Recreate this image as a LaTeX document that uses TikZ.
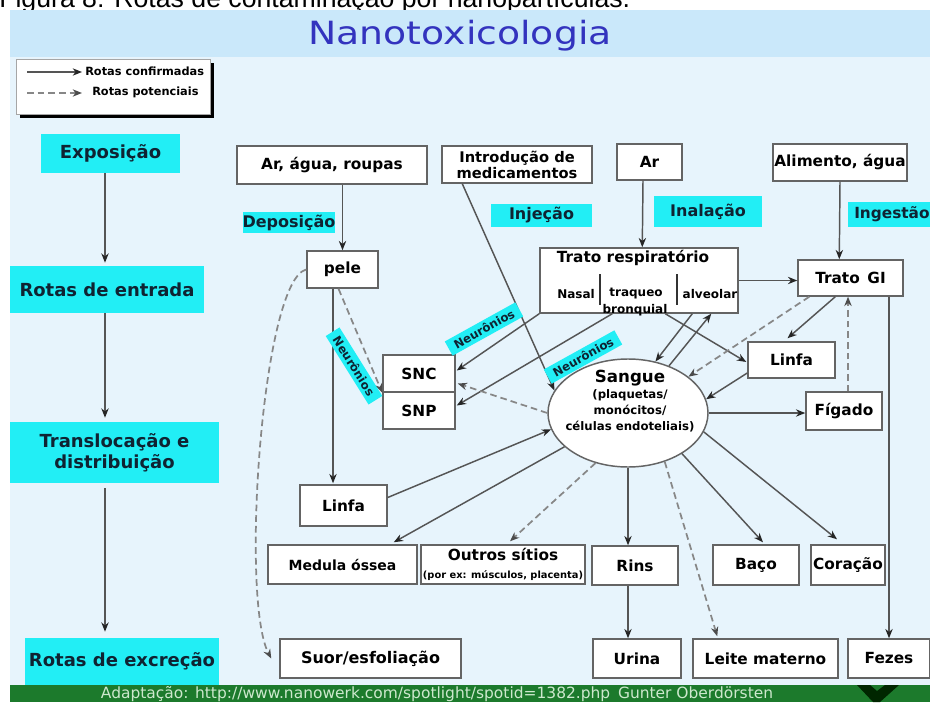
\documentclass[tikz,border=0pt]{standalone}
\usepackage{fontspec}
\setmainfont{DejaVu Sans}
\newfontfamily\capfont{Liberation Sans}
\usetikzlibrary{arrows.meta,shapes.geometric,calc,shadows}
\definecolor{bgmain}{RGB}{231,244,252}
\definecolor{bgtitle}{RGB}{202,232,250}
\definecolor{titleblue}{RGB}{51,51,190}
\definecolor{cyanlab}{RGB}{34,238,245}
\definecolor{footgreen}{RGB}{28,122,44}
\definecolor{foottext}{RGB}{205,232,205}
\definecolor{linecol}{RGB}{85,85,85}
\definecolor{dashcol}{RGB}{135,135,135}
\definecolor{boxborder}{RGB}{100,100,100}
\definecolor{labtext}{RGB}{15,35,50}
\newcommand\fsz[2]{\fontsize{#1}{#2}\selectfont}
\begin{document}
\begin{tikzpicture}[x=0.75pt,y=-0.75pt,
  wh/.style 2 args={minimum width=#1*0.75pt,minimum height=#2*0.75pt},
  box/.style={draw=boxborder,line width=1.1pt,fill=white,inner sep=0pt,align=center,font=\bfseries\fsz{11.5}{13.5}},
  lab/.style={fill=cyanlab,inner sep=0pt,align=center,text=labtext,font=\bfseries\fsz{13.5}{16}},
  cyl/.style={fill=cyanlab,inner sep=0pt,text=labtext,font=\bfseries\fsz{12}{14}},
  neur/.style={fill=cyanlab,inner xsep=5pt,inner ysep=2.5pt,text=labtext,font=\bfseries\fsz{8.8}{10}},
  arr/.style={draw=linecol,line width=1.1pt,-{Stealth[length=7pt,width=5.5pt,color=black!85]}},
  dsh/.style={draw=dashcol,line width=1.3pt,dash pattern=on 5pt off 3pt,-{Stealth[length=7pt,width=5.5pt,color=black!70]}},
  txt/.style={inner sep=0pt,font=\bfseries\fsz{9}{11}}]
\useasboundingbox (0,0) rectangle (930,702);
% backgrounds
\fill[white] (0,0) rectangle (930,702);
\fill[bgtitle] (10,10) rectangle (930,57);
\fill[bgmain] (10,57) rectangle (930,685);
\fill[footgreen] (10,685) rectangle (930,702);
\begin{scope}
\clip (0,0) rectangle (930,10);
\node[anchor=base west,inner sep=0pt,font=\capfont\fsz{20}{22}] (cap) at (-1,8) {Figura 8: Rotas de contaminação por nanopartículas.};
\end{scope}
\node[inner sep=0pt,text=titleblue,font=\fsz{24}{28}] (title) at (460,36) {\scalebox{1.18}[1]{Nanotoxicologia}};
\fill[black!85!green] (857,685) -- (870,685) -- (877,691) -- (885,685) -- (899,685) -- (880,702) -- (873,702) -- cycle;
\node[inner sep=0pt,text=foottext,font=\fsz{11.6}{13}] (foot) at (437,694) {Adaptação: http://www.nanowerk.com/spotlight/spotid=1382.php\enspace Gunter Oberdörsten};
% legend
\node[draw=gray!70,line width=0.8pt,fill=white,wh={194}{55},anchor=north west,
  drop shadow={shadow xshift=2.5pt,shadow yshift=-2.5pt,fill=black,opacity=1}] (leg) at (16,59) {};
\node[anchor=west,inner sep=0pt,font=\bfseries\fsz{8.5}{10}] (leg1) at (85,71) {Rotas confirmadas};
\node[anchor=west,inner sep=0pt,font=\bfseries\fsz{8.5}{10}] (leg2) at (92,92) {Rotas potenciais};
\coordinate (la1) at (27,72);
\coordinate (lb1) at (27,93);
\draw[arr,line width=0.9pt] (la1) -- ($(leg1.west)+(-3,1)$);
\draw[dsh,line width=1pt] (lb1) -- ($(leg2.west)+(-10,1)$);
% left column
\node[lab,wh={139}{39}] (exp) at (110.5,153.5) {Exposição};
\node[lab,wh={194}{47}] (ent) at (107,289.5) {Rotas de entrada};
\node[lab,wh={209}{61}] (tra) at (114.5,452.5) {Translocação e\\distribuição};
\node[lab,wh={194}{47}] (exc) at (122,661.5) {Rotas de excreção};
\draw[arr] ($(exp.south)+(-5.5,0)$) -- ($(ent.north)+(-2,-3)$);
\draw[arr] ($(ent.south)+(-2,0)$) -- ($(tra.north)+(-9.5,-4)$);
\draw[arr] ($(tra.south)+(-9.5,5)$) -- ($(exc.north)+(-17,-6)$);
% main boxes
\node[box,wh={190}{38}] (arw) at (332,165) {Ar, água, roupas};
\node[box,wh={150}{37},font=\bfseries\fsz{11}{12}] (intr) at (517,164.5) {Introdução de\\medicamentos};
\node[box,wh={65}{36}] (ar) at (649.5,162) {Ar};
\node[box,wh={134}{37}] (alim) at (840,162.5) {Alimento, água};
\node[box,wh={71}{37}] (pele) at (342.5,269.5) {pele};
\node[box,wh={198}{65}] (trs) at (639,280.5) {};
\node[inner sep=0pt,font=\bfseries\fsz{11.5}{13}] (trst) at (633,258) {Trato respiratório};
\node[txt] (nasal) at (576,294) {Nasal};
\node[txt] (traq) at (636,294) {traqueo};
\node[txt] (bronq) at (635,310) {bronquial};
\node[txt] (alv) at (710,294) {alveolar};
\draw[line width=0.8pt,black!80] (600,274) -- (600,305);
\draw[line width=0.8pt,black!80] (677,274) -- (677,305);
\node[box,wh={105}{36}] (tgi) at (850.5,278) {Trato\enspace GI};
\node[box,wh={87}{36}] (linR) at (791.5,360) {Linfa};
\node[box,wh={76}{38}] (fig) at (844,411) {Fígado};
\node[box,wh={72}{37}] (snc) at (419,373.5) {SNC};
\node[box,wh={72}{37}] (snp) at (419,410.5) {SNP};
\node[draw=boxborder,line width=1.1pt,fill=white,ellipse,wh={160}{108},inner sep=0pt] (sang) at (628,413) {};
\node[align=center,inner sep=0pt,font=\bfseries\fsz{8.8}{12}] (sangtxt) at (630,401) {{\fsz{12.5}{14}Sangue}\\(plaquetas/\\monócitos/\\células endoteliais)};
\node[box,wh={87}{41}] (linL) at (343.5,505.5) {Linfa};
\node[box,wh={149}{39},font=\bfseries\fsz{10.5}{12}] (med) at (342.5,564.5) {Medula óssea};
\node[box,wh={164}{39}] (out) at (503,564.5) {{\fsz{11.5}{12}Outros sítios}\\{\fsz{7.4}{9}(por ex: músculos, placenta)}};
\node[box,wh={86}{39}] (rins) at (635,565.5) {Rins};
\node[box,wh={86}{40}] (baco) at (756,565) {Baço};
\node[box,wh={74}{40}] (cor) at (848,565) {Coração};
\node[box,wh={181}{39},font=\bfseries\fsz{12}{14}] (suor) at (370.5,658.5) {Suor/esfoliação};
\node[box,wh={88}{39}] (urina) at (637,658.5) {Urina};
\node[box,wh={145}{39}] (leite) at (765.5,658.5) {Leite materno};
\node[box,wh={82}{39}] (fez) at (889,658.5) {Fezes};
% route labels
\node[cyl,wh={78}{21}] (dep) at (289,222.5) {Deposição};
\node[cyl,wh={101}{23}] (inj) at (541.5,215.5) {Injeção};
\node[cyl,wh={108}{31}] (inal) at (708,211.5) {Inalação};
\node[cyl,wh={82}{25},anchor=west,font=\bfseries\fsz{11.5}{14}] (ing) at (848,214.5) {\hspace*{4pt}Ingestão};
% connectors
\draw[arr] (pele.north |- arw.south) -- (pele.north);
\draw[arr] ($(pele.south)+(-9.5,0)$) -- ($(linL.north)+(-10.5,-1)$);
\draw[dsh] ($(pele.south)+(-4,0)$) -- (snc.south west);
\draw[dsh] (pele.west) .. controls (262,280) and (240,600) .. ($(suor.west)+(-8,0)$);
\draw[arr] ($(intr.south west)+(21,0)$) -- (sang.163);
\draw[arr] ($(ar.south)+(-6.5,0)$) -- ($(trs.north west)+(103,0)$);
\draw[arr] (alim.south) -- ($(tgi.north west)+(42,0)$);
\draw[arr] (trs.east) -- (tgi.west |- trs.east);
\draw[arr] (trs.south west) -- ($(snc.east)+(1,-3)$);
\draw[arr] ($(trs.south west)+(73,0)$) -- ($(snp.east)+(1,-5)$);
\draw[dsh] (sang.180) -- ($(snc.east)+(2,10)$);
\draw[arr] ($(trs.south west)+(126,0)$) -- ($(linR.west)+(-1,2)$);
\draw[arr] ($(trs.south west)+(153,0)$) -- (sang.62);
\draw[arr] (sang.49) -- ($(trs.south west)+(172,0)$);
\draw[dsh] ($(tgi.south west)+(12,0)$) -- (sang.31);
\draw[arr] ($(tgi.south west)+(38,0)$) -- ($(linR.north)+(-4,-3)$);
\draw[arr] ($(linR.west)+(0,13)$) -- (sang.10);
\draw[arr] (sang.east) -- (fig.west |- sang.east);
\draw[dsh] ($(fig.north)+(4,0)$) -- ($(tgi.south)+(-2.5,0)$);
\draw[arr] (fez.north |- tgi.south) -- (fez.north);
\draw[arr] ($(linL.east)+(0,-8)$) -- (sang.192);
\draw[arr] (sang.208) -- ($(med.north east)+(-24,-2)$);
\draw[dsh] (sang.237) -- ($(out.north)+(7,-3)$);
\draw[arr] (sang.south) -- (sang.south |- rins.north);
\draw[arr] (sang.south |- rins.south) -- (sang.south |- urina.north);
\draw[dsh] (sang.307) -- ($(leite.north west)+(25,-2)$);
\draw[arr] (sang.323) -- ($(baco.north)+(7,-2)$);
\draw[arr] (sang.346) -- ($(cor.north)+(-11,-5)$);
% neuron labels
\node[neur,rotate=29] (n1) at (484,329) {Neurônios};
\node[neur,rotate=29] (n2) at (583,357) {Neurônios};
\node[neur,rotate=-58] (n3) at (354,366) {Neurônios};
\end{tikzpicture}
\end{document}
